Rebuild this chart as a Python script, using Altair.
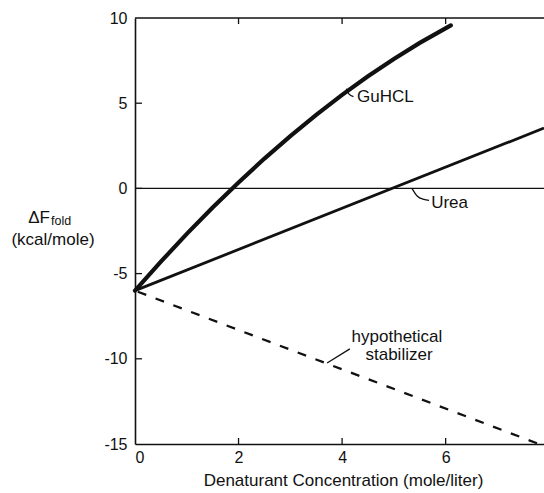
import altair as alt
import pandas as pd

# Free energy of folding vs. denaturant concentration
guhcl_conc = [0, 0.5, 1.0, 1.5, 2.0, 2.5, 3.0, 3.5, 4.0, 4.5, 5.0, 5.5, 6.1]
guhcl_dF = [-6.0, -4.3, -2.67, -1.12, 0.35, 1.75, 3.07, 4.32, 5.49, 6.58, 7.6, 8.54, 9.57]

urea_conc = [0, 7.9]
urea_dF = [-6.0, 3.54]

stab_conc = [0, 7.8]
stab_dF = [-6.0, -15.0]

x_ticks = [0, 2, 4, 6]
y_ticks = [-15, -10, -5, 0, 5, 10]
x_inner_ticks = [2, 4, 6]
y_inner_ticks = [-10, -5, 0, 5]

X_MAX = 7.9
W, H = 409, 426
FONT = "Liberation Sans"
INK = "#111111"

xs = alt.Scale(domain=[0, X_MAX], nice=False, zero=False)
ys = alt.Scale(domain=[-15, 10], nice=False, zero=False)

def curve(conc, dF, name):
    return pd.DataFrame({"conc": conc, "dF": dF, "series": name})

gu = curve(guhcl_conc, guhcl_dF, "GuHCL")
ur = curve(urea_conc, urea_dF, "Urea")
st = curve(stab_conc, stab_dF, "stabilizer")

x_enc = alt.X(
    "conc:Q", scale=xs,
    axis=alt.Axis(
        values=x_ticks, ticks=False, tickSize=0, grid=False, labelPadding=5,
        domainColor=INK, domainWidth=1.6, labelColor=INK, labelFont=FONT,
        labelFontSize=16, title="Denaturant Concentration (mole/liter)",
        titleFont=FONT, titleFontSize=17, titleFontWeight="normal",
        titleColor=INK, titleX=208, titleY=41, titleBaseline="alphabetic",
    ),
)
y_enc = alt.Y(
    "dF:Q", scale=ys,
    axis=alt.Axis(
        values=y_ticks, ticks=False, tickSize=0, grid=False, labelPadding=8,
        labelExpr="'' + datum.value",
        domainColor=INK, domainWidth=1.6, labelColor=INK, labelFont=FONT,
        labelFontSize=16, title=None,
    ),
)

gu_line = alt.Chart(gu).mark_line(color=INK, strokeWidth=4.2, strokeCap="round").encode(
    x=x_enc, y=y_enc, order="conc:Q")
ur_line = alt.Chart(ur).mark_line(color=INK, strokeWidth=2.8).encode(
    x=alt.X("conc:Q", scale=xs), y=alt.Y("dF:Q", scale=ys))
st_line = alt.Chart(st).mark_line(color=INK, strokeWidth=2.2, strokeDash=[9, 10],
                                  strokeDashOffset=-3).encode(
    x=alt.X("conc:Q", scale=xs), y=alt.Y("dF:Q", scale=ys))

# horizontal reference line at zero
zero = alt.Chart(pd.DataFrame({"y": [0]})).mark_rule(color=INK, strokeWidth=1.2).encode(
    y=alt.Y("y:Q", scale=ys), x=alt.value(0), x2=alt.value(W))

# top frame line
top = alt.Chart(pd.DataFrame({"y": [10]})).mark_rule(color=INK, strokeWidth=1.6).encode(
    y=alt.Y("y:Q", scale=ys), x=alt.value(0), x2=alt.value(W))

# inward-pointing tick marks
xt = pd.DataFrame({"x": x_inner_ticks})
bottom_ticks = alt.Chart(xt).mark_rule(color=INK, strokeWidth=1.3).encode(
    x=alt.X("x:Q", scale=xs), y=alt.value(H), y2=alt.value(H - 6))
top_ticks = alt.Chart(xt).mark_rule(color=INK, strokeWidth=1.3).encode(
    x=alt.X("x:Q", scale=xs), y=alt.value(0), y2=alt.value(6))
yt = pd.DataFrame({"y": y_inner_ticks})
left_ticks = alt.Chart(yt).mark_rule(color=INK, strokeWidth=1.3).encode(
    y=alt.Y("y:Q", scale=ys), x=alt.value(0), x2=alt.value(7))

# leader lines from curves to their labels
leaders = pd.DataFrame({
    "conc": [4.08, 4.13, 4.22, 5.35, 5.45, 5.58, 5.68, 3.71, 4.15],
    "dF": [5.85, 5.55, 5.38, 0.0, -0.45, -0.65, -0.7, -10.25, -9.42],
    "grp": ["g", "g", "g", "u", "u", "u", "u", "s", "s"],
    "k": list(range(9)),
})
leader_lines = alt.Chart(leaders).mark_line(color=INK, strokeWidth=1.3, interpolate="monotone").encode(
    x=alt.X("conc:Q", scale=xs), y=alt.Y("dF:Q", scale=ys), detail="grp:N", order="k:Q")

labels = pd.DataFrame({
    "conc": [4.29, 5.72, 5.06, 5.1],
    "dF": [5.36, -0.86, -8.72, -9.78],
    "txt": ["GuHCL", "Urea", "hypothetical", "stabilizer"],
    "al": ["left", "left", "center", "center"],
})
lab_left = alt.Chart(labels[labels.al == "left"]).mark_text(
    align="left", baseline="middle", font=FONT, fontSize=17, color=INK).encode(
    x=alt.X("conc:Q", scale=xs), y=alt.Y("dF:Q", scale=ys), text="txt:N")
lab_center = alt.Chart(labels[labels.al == "center"]).mark_text(
    align="center", baseline="middle", font=FONT, fontSize=17, color=INK).encode(
    x=alt.X("conc:Q", scale=xs), y=alt.Y("dF:Q", scale=ys), text="txt:N")

# y-axis title: ΔF with subscript "fold", units below
ytitle_main = alt.Chart(pd.DataFrame({"t": ["ΔF"]})).mark_text(
    align="right", baseline="alphabetic", font=FONT, fontSize=17, color=INK).encode(
    x=alt.value(-85), y=alt.value(205), text="t:N")
ytitle_sub = alt.Chart(pd.DataFrame({"t": ["fold"]})).mark_text(
    align="left", baseline="alphabetic", font=FONT, fontSize=12.5, color=INK).encode(
    x=alt.value(-84), y=alt.value(207), text="t:N")
ytitle_units = alt.Chart(pd.DataFrame({"t": ["(kcal/mole)"]})).mark_text(
    align="center", baseline="alphabetic", font=FONT, fontSize=17, color=INK).encode(
    x=alt.value(-82), y=alt.value(227), text="t:N")

chart = alt.layer(
    zero, top, bottom_ticks, top_ticks, left_ticks,
    st_line, ur_line, gu_line, leader_lines, lab_left, lab_center,
    ytitle_main, ytitle_sub, ytitle_units,
).properties(
    width=W, height=H,
    padding={"left": 135, "top": 18, "right": 0, "bottom": 49},
    autosize=alt.AutoSizeParams(type="none"),
    background="white",
).configure_view(stroke=None)

chart.save("out.html", embed_options={"renderer": "svg", "actions": False})
